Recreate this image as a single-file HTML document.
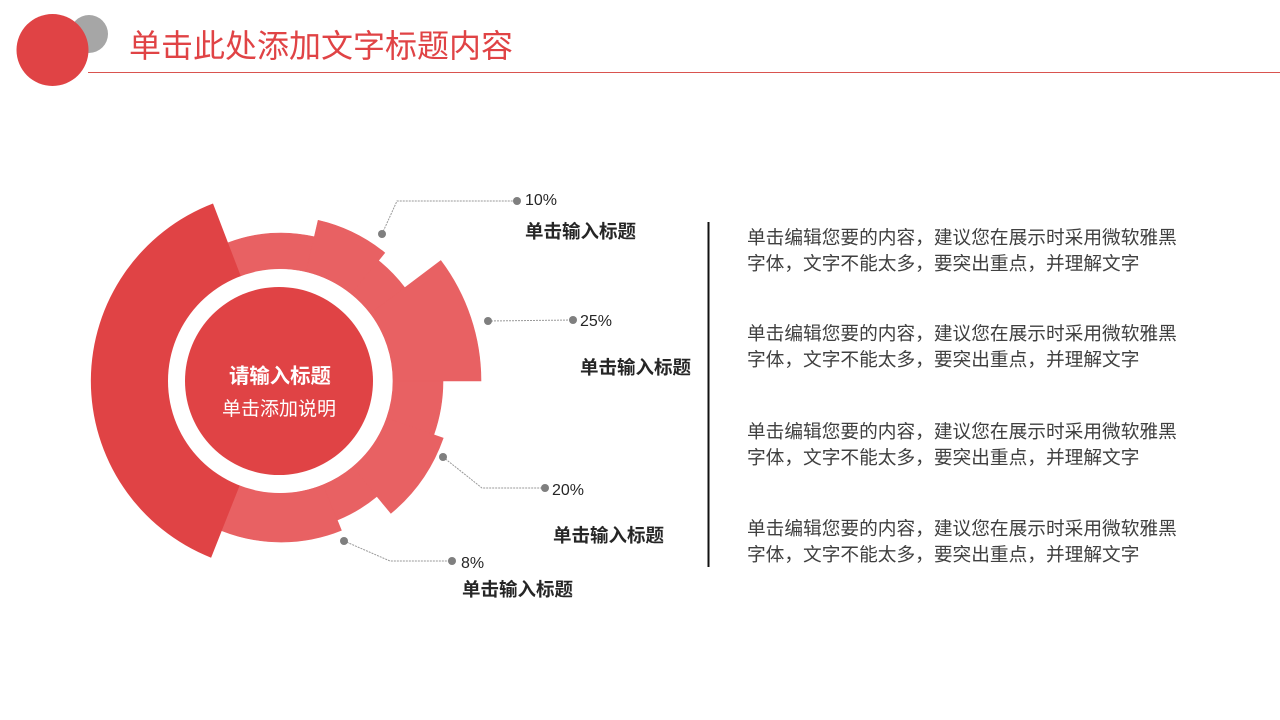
<!DOCTYPE html>
<html><head><meta charset="utf-8"><style>
body{margin:0;width:1280px;height:720px;background:#fff;overflow:hidden;position:relative;font-family:"Liberation Sans","Noto Sans CJK SC",sans-serif}
.t{position:absolute;white-space:nowrap}
.p{position:absolute;left:747px;font-size:18.7px;line-height:26px;color:#404040;white-space:nowrap}
.h{font-size:18.5px;font-weight:bold;color:#262626}
.n{font-size:16px;color:#262626}
</style></head><body>
<svg width="1280" height="720" style="position:absolute;left:0;top:0">
<circle cx="89" cy="34" r="19" fill="#a6a6a6"/>
<circle cx="52.5" cy="50" r="36" fill="#e04345"/>
<line x1="88" y1="72.5" x2="1280" y2="72.5" stroke="#d9534f" stroke-width="1"/>
<g fill="#e86163" stroke="#e86163" stroke-width="0.6">
<path d="M228,242.8 A148,148 0 0 1 314.3,236.8 L306.2,271.9 A112,112 0 0 0 240.9,276.4Z"/>
<path d="M318.1,220.3 A165,165 0 0 1 384.8,252.8 L351.4,294 A112,112 0 0 0 306.2,271.9Z"/>
<path d="M378.5,260.6 A155,155 0 0 1 404.8,287.7 L370.5,313.6 A112,112 0 0 0 351.4,294Z"/>
<path d="M440.8,260.6 A200,200 0 0 1 481,381 L393,381 A112,112 0 0 0 370.5,313.6Z"/>
<path d="M443,381 A162,162 0 0 1 433.8,434.8 L386.6,418.2 A112,112 0 0 0 393,381Z"/>
<path d="M443.2,438.1 A172,172 0 0 1 390.9,513.3 L352.6,467.1 A112,112 0 0 0 386.6,418.2Z"/>
<path d="M376.9,496.4 A150,150 0 0 1 337.2,520.1 L323,484.8 A112,112 0 0 0 352.6,467.1Z"/>
<path d="M341.4,530.3 A161,161 0 0 1 221.8,530.7 L239.8,485.2 A112,112 0 0 0 323,484.8Z"/>
</g>
<path d="M211.1,557.7 A190,190 0 0 1 213,203.5 L240.9,276.4 A112,112 0 0 0 239.8,485.2Z" fill="#e04345"/>
<circle cx="280" cy="381" r="112" fill="#fff"/>
<circle cx="279" cy="381" r="94" fill="#e04345"/>
<g stroke="#999" stroke-width="1" stroke-dasharray="2,1" fill="none">
<polyline points="382,234 397,201 517,201"/>
<polyline points="488,321 573,320"/>
<polyline points="443,457 482,488 545,488"/>
<polyline points="344,541 390,561 452,561"/>
</g>
<g fill="#7f7f7f">
<circle cx="382" cy="234" r="4"/><circle cx="517" cy="201" r="4"/>
<circle cx="488" cy="321" r="4"/><circle cx="573" cy="320" r="4"/>
<circle cx="443" cy="457" r="4"/><circle cx="545" cy="488" r="4"/>
<circle cx="344" cy="541" r="4"/><circle cx="452" cy="561" r="4"/>
</g>
<line x1="708.5" y1="222" x2="708.5" y2="567" stroke="#111" stroke-width="2"/>
</svg>
<div class="t" style="left:129px;top:26px;font-size:32px;color:#e04345;line-height:40px">单击此处添加文字标题内容</div>
<div class="t" style="left:229px;top:359px;font-size:20.4px;font-weight:bold;color:#fff">请输入标题</div>
<div class="t" style="left:222px;top:394px;font-size:19px;color:#fff">单击添加说明</div>
<div class="t n" style="left:525px;top:192px">10%</div>
<div class="t h" style="left:525px;top:218px">单击输入标题</div>
<div class="t n" style="left:580px;top:313px">25%</div>
<div class="t h" style="left:580px;top:354px">单击输入标题</div>
<div class="t n" style="left:552px;top:482px">20%</div>
<div class="t h" style="left:553px;top:522px">单击输入标题</div>
<div class="t n" style="left:461px;top:555px">8%</div>
<div class="t h" style="left:462px;top:576px">单击输入标题</div>
<div class="p" style="top:225px">单击编辑您要的内容，建议您在展示时采用微软雅黑<br>字体，文字不能太多，要突出重点，并理解文字</div>
<div class="p" style="top:321px">单击编辑您要的内容，建议您在展示时采用微软雅黑<br>字体，文字不能太多，要突出重点，并理解文字</div>
<div class="p" style="top:419px">单击编辑您要的内容，建议您在展示时采用微软雅黑<br>字体，文字不能太多，要突出重点，并理解文字</div>
<div class="p" style="top:516px">单击编辑您要的内容，建议您在展示时采用微软雅黑<br>字体，文字不能太多，要突出重点，并理解文字</div>
</body></html>
